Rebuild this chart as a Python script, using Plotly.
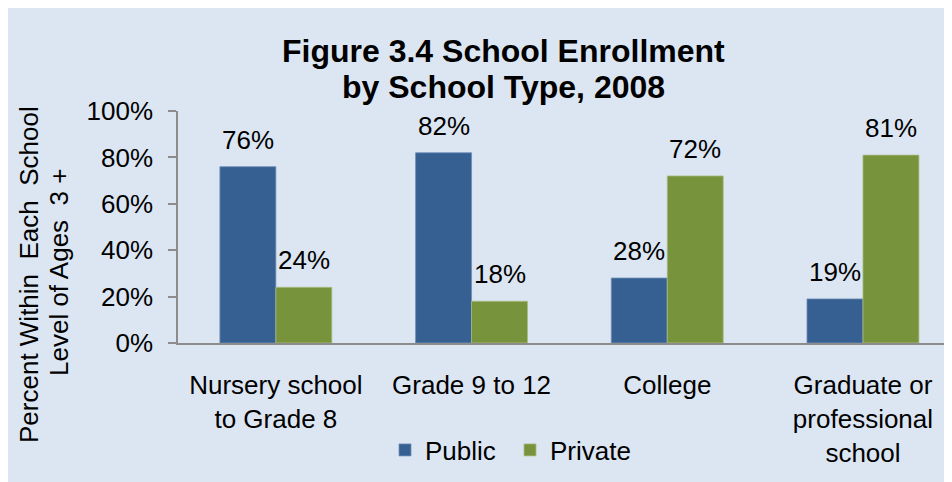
import plotly.graph_objects as go

categories = ["Nursery school<br>to Grade 8", "Grade 9 to 12", "College",
              "Graduate or<br>professional<br>school"]
public_vals = [76, 82, 28, 19]
private_vals = [24, 18, 72, 81]
y_ticks = [0, 20, 40, 60, 80, 100]
y_tick_labels = [f"{v}%" for v in y_ticks]

FONT = "Arial, 'Liberation Sans', sans-serif"
OFF = 8  # page body margin
W, H = 944, 482
L, R, T, B = 170, 0, 103, 147
PW, PH = W - L - R, H - T - B

def px_x(px):
    return (px - OFF - L) / PW

def px_y(py):
    return (H - B - (py - OFF)) / PH

BLUE = "#376092"
GREEN = "#77933c"
BG = "#dce6f2"

fig = go.Figure()
fig.add_trace(go.Bar(name="Public", x=list(range(4)), y=public_vals,
                     marker=dict(color=BLUE, line=dict(color="#6f8fb8", width=0.8))))
fig.add_trace(go.Bar(name="Private", x=list(range(4)), y=private_vals,
                     marker=dict(color=GREEN, line=dict(color="#a9bd84", width=0.8))))

annotations = []
for i, v in enumerate(public_vals):
    annotations.append(dict(x=i, y=v, xref="x", yref="y", text=f"{v}%", showarrow=False,
                            xshift=-28, yshift=10, yanchor="bottom",
                            font=dict(family=FONT, size=26, color="black")))
for i, v in enumerate(private_vals):
    annotations.append(dict(x=i, y=v, xref="x", yref="y", text=f"{v}%", showarrow=False,
                            xshift=28, yshift=10, yanchor="bottom",
                            font=dict(family=FONT, size=26, color="black")))

# Title lines
annotations.append(dict(x=px_x(503), y=px_y(50.5), xref="paper", yref="paper",
                        text="<b>Figure 3.4 School Enrollment</b>", showarrow=False,
                        xanchor="center", yanchor="middle",
                        font=dict(family=FONT, size=32, color="black")))
annotations.append(dict(x=px_x(503), y=px_y(86.5), xref="paper", yref="paper",
                        text="<b>by School Type, 2008</b>", showarrow=False,
                        xanchor="center", yanchor="middle",
                        font=dict(family=FONT, size=32, color="black")))
# Y-axis title lines
annotations.append(dict(x=px_x(29), y=px_y(275), xref="paper", yref="paper",
                        text="Percent Within  Each  School", showarrow=False, textangle=-90,
                        xanchor="center", yanchor="middle",
                        font=dict(family=FONT, size=26, color="black")))
annotations.append(dict(x=px_x(59), y=px_y(273), xref="paper", yref="paper",
                        text="Level of Ages  3 +", showarrow=False, textangle=-90,
                        xanchor="center", yanchor="middle",
                        font=dict(family=FONT, size=26, color="black")))

fig.update_layout(
    width=W, height=H,
    margin=dict(l=L, r=R, t=T, b=B, pad=0),
    paper_bgcolor=BG,
    plot_bgcolor=BG,
    barmode="group",
    bargap=0.428,
    bargroupgap=0,
    font=dict(family=FONT, size=26, color="black"),
    showlegend=True,
    legend=dict(orientation="h", x=px_x(385), y=px_y(450), xanchor="left", yanchor="middle",
                bgcolor="rgba(0,0,0,0)", font=dict(family=FONT, size=26, color="black"),
                entrywidth=80, entrywidthmode="pixels", itemclick=False),
    annotations=annotations,
    xaxis=dict(tickmode="array", tickvals=list(range(4)), ticktext=categories,
               range=[-0.5, 3.455], showgrid=False, zeroline=False,
               showline=True, linecolor="#8c8c8c", linewidth=2,
               ticks="", ticklabelstandoff=18,
               tickfont=dict(family=FONT, size=26, color="black"), fixedrange=True),
    yaxis=dict(range=[0, 100], tickmode="array", tickvals=y_ticks, ticktext=y_tick_labels,
               showgrid=False, zeroline=False, showline=True, linecolor="#8c8c8c",
               linewidth=1.5, ticks="outside", ticklen=8, tickcolor="#8c8c8c", tickwidth=1.5,
               ticklabelstandoff=10,
               tickfont=dict(family=FONT, size=26, color="black"), fixedrange=True),
)

fig.write_html("out.html")
